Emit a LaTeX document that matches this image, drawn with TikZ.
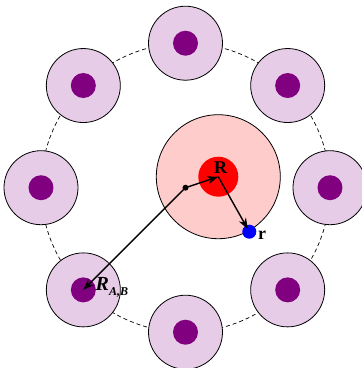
\documentclass[tikz,border=0pt]{standalone}
\usepackage{fontspec}
\setmainfont{Liberation Serif}
\usetikzlibrary{arrows.meta,calc}
\definecolor{lav}{RGB}{230,204,230}
\definecolor{dpurp}{RGB}{128,0,128}
\definecolor{pinkf}{RGB}{255,204,204}
\begin{document}
\begin{tikzpicture}[x=1pt,y=-1pt,
  sat/.style={circle,draw=black,line width=0.8pt,fill=lav,minimum size=74pt,inner sep=0pt},
  core/.style={circle,fill=dpurp,minimum size=25pt,inner sep=0pt},
  arr/.style={line width=1.4pt,-{Stealth[length=11pt,width=8pt]}},
  lbl/.style={font=\fontsize{18}{20}\selectfont\bfseries,inner sep=0pt}]
\useasboundingbox (0,0) rectangle (362,368);
\coordinate (O) at (185.5,187.7);
\draw[line width=0.7pt,dash pattern=on 4pt off 3pt] (O) circle (144.5);
\foreach \a [count=\i] in {0,45,...,315} {
  \node[sat] (s\i) at ($(O)+(\a:144.5)$) {};
  \node[core] (c\i) at (s\i) {};
}
\node[circle,draw=black,line width=0.8pt,fill=pinkf,minimum size=124pt,inner sep=0pt] (P) at (218.3,176.7) {};
\node[circle,fill=red,minimum size=40pt,inner sep=0pt] (Rc) at (218.3,176.7) {};
\node[circle,fill=blue,minimum size=14pt,inner sep=0pt] (B) at (249.3,231.7) {};
\node[circle,fill=black,minimum size=6pt,inner sep=0pt] (D) at (O) {};
\draw[arr] (D.center) -- (Rc.center);
\draw[arr,shorten >=3pt] (Rc.center) -- (B.center);
\draw[arr] (D.center) -- (c4.center);
\node[lbl] (lR) at (220.5,167.5) {R};
\node[lbl] (lr) at (262,235.5) {r};
\node[lbl,anchor=west] (lRAB) at (95.5,287.5) {\fontsize{20}{22}\selectfont\itshape R\raisebox{-4.5pt}{\fontsize{12}{14}\selectfont A,B}};
\end{tikzpicture}
\end{document}
